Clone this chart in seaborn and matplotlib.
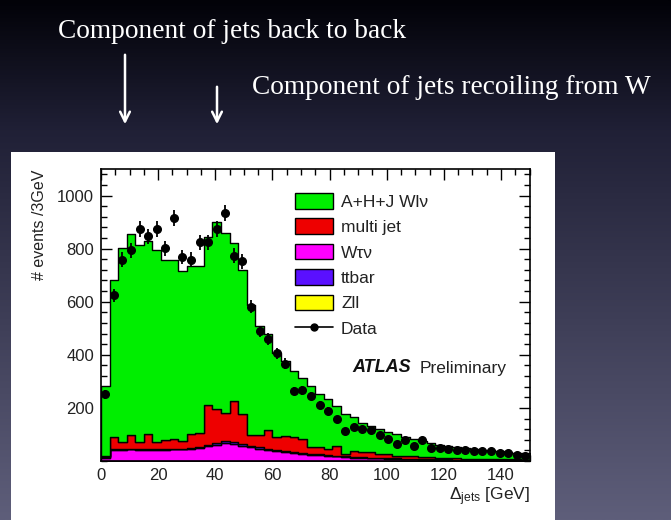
import numpy as np
import pandas as pd
import matplotlib
matplotlib.use("Agg")
import matplotlib.pyplot as plt
import seaborn as sns
from matplotlib.patches import Rectangle, Patch
from matplotlib.lines import Line2D
from matplotlib.ticker import MultipleLocator, FixedLocator
from matplotlib.colors import LinearSegmentedColormap

# ---- binning: 3 GeV bins from 0 to 150 GeV ----
bin_edges = np.arange(0, 151, 3)
bin_centers = bin_edges[:-1] + 1.5

# ---- stacked MC components (events / 3 GeV) ----
wlv = [263, 593, 732, 756, 744, 727, 724, 679, 675, 637,
       634, 628, 631, 704, 677, 595, 540, 491, 412, 365,
       316, 280, 249, 231, 232, 200, 188, 150, 150, 128,
       110, 99, 92, 83, 80, 72, 65, 60, 54, 50,
       46, 43, 40, 37, 35, 33, 30, 29, 26, 25]
multijet = [6, 46, 25, 51, 25, 54, 27, 34, 36, 30,
            51, 54, 152, 128, 107, 155, 115, 42, 47, 69,
            50, 58, 56, 53, 24, 26, 22, 37, 8, 20,
            20, 21, 16, 16, 10, 9, 9, 8, 7, 6,
            5, 5, 4, 5, 4, 3, 4, 3, 3, 2]
wtaunu = [12, 40, 41, 43, 41, 42, 40, 41, 43, 43,
          46, 49, 54, 61, 68, 64, 57, 51, 46, 41,
          37, 33, 29, 26, 23, 21, 19, 16, 14, 12,
          11, 10, 9, 8, 7, 6, 5, 4, 4, 3,
          3, 3, 3, 2, 2, 2, 1, 1, 1, 1]
ttbar = [1, 3, 3, 3, 3, 3, 3, 3, 3, 3,
         3, 3, 5, 5, 5, 5, 5, 4, 4, 4,
         4, 4, 4, 3, 3, 3, 3, 3, 3, 3,
         3, 2, 2, 2, 2, 2, 2, 2, 2, 2,
         2, 1, 1, 1, 1, 1, 1, 1, 1, 1]
zll = [1] * 50

# ---- observed data ----
data_counts = [251, 624, 758, 793, 874, 846, 874, 802, 917, 768,
               758, 824, 824, 873, 933, 773, 752, 582, 488, 460,
               405, 367, 264, 266, 245, 212, 189, 157, 113, 127,
               120, 115, 97, 81, 63, 78, 57, 78, 48, 49,
               44, 43, 41, 39, 38, 36, 32, 30, 24, 19]

labels = ["A+H+J Wlν", "multi jet", "Wτν", "ttbar", "Zll"]
colors = {"A+H+J Wlν": "#00ee00", "multi jet": "#ee0000", "Wτν": "#ff00ff",
          "ttbar": "#5a10ff", "Zll": "#ffff00"}
x_ticks = [0, 20, 40, 60, 80, 100, 120, 140]
y_ticks = [200, 400, 600, 800, 1000]

components = {"A+H+J Wlν": wlv, "multi jet": multijet, "Wτν": wtaunu,
              "ttbar": ttbar, "Zll": zll}
df = pd.concat([pd.DataFrame({"x": bin_centers, "w": vals, "sample": name})
                for name, vals in components.items()], ignore_index=True)

W, H = 671, 520
fig = plt.figure(figsize=(W / 100, H / 100), dpi=100)
sns.set_style("ticks")
plt.rcParams["font.family"] = ["Liberation Sans", "DejaVu Sans"]
plt.rcParams["mathtext.fontset"] = "custom"
plt.rcParams["mathtext.rm"] = "Liberation Sans"
plt.rcParams["mathtext.it"] = "Liberation Sans:italic"

# ---- slide background, white panel, headline annotations ----
bg = fig.add_axes([0, 0, 1, 1], zorder=-10)
grad = np.linspace(0, 1, 256)[:, None]
cmap = LinearSegmentedColormap.from_list(
    "slide", [(0.0, "#020208"), (0.25, "#202036"), (1.0, "#5e5e7a")])
bg.imshow(grad, aspect="auto", cmap=cmap, extent=[0, W, H, 0])
bg.set_xlim(0, W)
bg.set_ylim(H, 0)
bg.axis("off")
bg.add_patch(Rectangle((11, 152), 544, 370, facecolor="white", edgecolor="none"))
bg.text(58, 31, "Component of jets back to back", color="white",
        fontsize=19.7, family="Liberation Serif", va="center", ha="left")
bg.text(252, 88, "Component of jets recoiling from W", color="white",
        fontsize=19.7, family="Liberation Serif", va="center", ha="left")
for ax_x, y0 in [(125, 52), (217, 84)]:
    bg.annotate("", xy=(ax_x, 127), xytext=(ax_x, y0),
                arrowprops=dict(arrowstyle="->,head_length=0.7,head_width=0.35",
                                color="white", lw=1.8))

# ---- main histogram axes ----
ax = fig.add_axes([101 / W, 1 - 461 / H, 428.5 / W, 292 / H])
sns.histplot(data=df, x="x", weights="w", hue="sample",
             hue_order=["A+H+J Wlν", "multi jet", "ttbar", "Wτν", "Zll"],
             binwidth=3, binrange=(0, 150), multiple="stack", element="step",
             fill=True, palette=colors, alpha=1, edgecolor="black",
             linewidth=1.0, legend=False, ax=ax)
ax.errorbar(bin_centers, data_counts, yerr=np.sqrt(data_counts), fmt="o",
            color="black", ms=5.5, elinewidth=1.3, capsize=0, zorder=5)

ax.set_xlim(0, 150)
ax.set_ylim(0, 1100)
ax.xaxis.set_major_locator(FixedLocator(x_ticks))
ax.xaxis.set_minor_locator(MultipleLocator(5))
ax.yaxis.set_major_locator(FixedLocator(y_ticks))
ax.yaxis.set_minor_locator(MultipleLocator(40))
ax.tick_params(which="both", direction="in", top=True, right=True,
               color="black", width=1)
ax.tick_params(which="major", length=8, labelsize=12, labelcolor="#222222", pad=5)
ax.tick_params(which="minor", length=4)
for s in ax.spines.values():
    s.set_linewidth(1.2)
    s.set_color("black")
ax.set_xlabel("")
ax.set_ylabel("")

fig.text(530 / W, 1 - 497 / H, r"$\Delta_{\mathrm{jets}}$ [GeV]", ha="right",
         va="center", fontsize=12.5, color="#222222")
fig.text(40 / W, 1 - 170 / H, "# events /3GeV", rotation=90, ha="center",
         va="top", fontsize=11.5, color="#222222")

handles = [Patch(facecolor=colors[l], edgecolor="black", linewidth=1.0) for l in labels]
handles.append(Line2D([], [], color="black", marker="o", ms=5, lw=1.2))
ax.legend(handles, labels + ["Data"], loc="upper left",
          bbox_to_anchor=((295 - 101) / 428.5, (461 - 193) / 292),
          frameon=False, fontsize=12.5, handlelength=2.2, handleheight=1.0,
          handletextpad=0.45, labelspacing=0.5, borderpad=0, borderaxespad=0,
          labelcolor="#222222")

fig.text(352 / W, 1 - 368 / H, "ATLAS", fontsize=13, fontweight="bold",
         fontstyle="italic", color="#111111", va="center", ha="left")
fig.text(420 / W, 1 - 368 / H, "Preliminary", fontsize=12.5, color="#222222",
         va="center", ha="left")

fig.savefig("out.png", dpi=100)
